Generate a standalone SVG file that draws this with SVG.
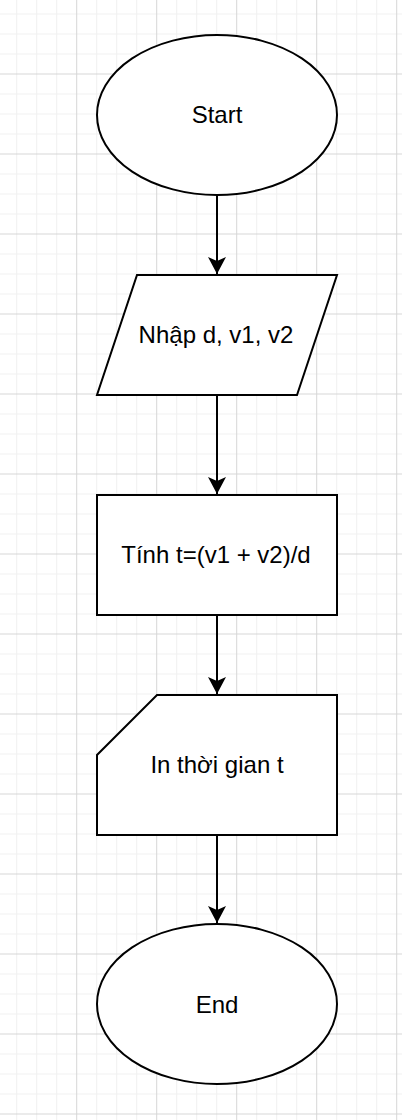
<svg xmlns="http://www.w3.org/2000/svg" width="402" height="1120" viewBox="0 0 402 1120">
  <defs>
    <pattern id="grid" patternUnits="userSpaceOnUse" x="76.2" y="73.5" width="80" height="80">
      <rect x="20" y="0" width="1" height="80" fill="#f0f0f0"/>
      <rect x="40" y="0" width="1" height="80" fill="#f0f0f0"/>
      <rect x="60" y="0" width="1" height="80" fill="#f0f0f0"/>
      <rect x="0" y="20" width="80" height="1" fill="#f0f0f0"/>
      <rect x="0" y="40" width="80" height="1" fill="#f0f0f0"/>
      <rect x="0" y="60" width="80" height="1" fill="#f0f0f0"/>
      <rect x="0" y="0" width="1" height="80" fill="#d6d6d6"/>
      <rect x="0" y="0" width="80" height="1" fill="#d6d6d6"/>
    </pattern>
    <marker id="arrow" markerUnits="userSpaceOnUse" viewBox="0 0 18 18" refX="17" refY="9" markerWidth="18" markerHeight="18" orient="auto">
      <path d="M0,0 L17,9 L0,18 L4,9 Z" fill="#000"/>
    </marker>
  </defs>
  <style>
    .shape { fill: #ffffff; stroke: #000000; stroke-width: 2; }
    .label { font-family: "Liberation Sans", Arial, Helvetica, sans-serif; font-size: 24px; fill: #000000; text-anchor: middle; }
    .edge { stroke: #000000; stroke-width: 2; fill: none; marker-end: url(#arrow); }
  </style>
  <rect x="0" y="0" width="402" height="1120" fill="#ffffff"/>
  <rect x="0" y="0" width="402" height="1120" fill="url(#grid)"/>

  <g id="connectors">
    <path class="edge" d="M217,195 L217,274"/>
    <path class="edge" d="M217,395 L217,494"/>
    <path class="edge" d="M217,615 L217,694"/>
    <path class="edge" d="M217,835 L217,923"/>
  </g>

  <g id="start">
    <ellipse class="shape" cx="217" cy="115" rx="120" ry="80"/>
    <text class="label" x="217" y="123">Start</text>
  </g>
  <g id="input">
    <polygon class="shape" points="137,275 337,275 297,395 97,395"/>
    <text class="label" x="216" y="343">Nhập d, v1, v2</text>
  </g>
  <g id="process">
    <rect class="shape" x="97" y="495" width="240" height="120"/>
    <text class="label" x="216" y="563">Tính t=(v1 + v2)/d</text>
  </g>
  <g id="output">
    <polygon class="shape" points="157,695 337,695 337,835 97,835 97,755"/>
    <text class="label" x="217" y="773">In thời gian t</text>
  </g>
  <g id="end">
    <ellipse class="shape" cx="217" cy="1004" rx="120" ry="80"/>
    <text class="label" x="217" y="1013">End</text>
  </g>
</svg>
